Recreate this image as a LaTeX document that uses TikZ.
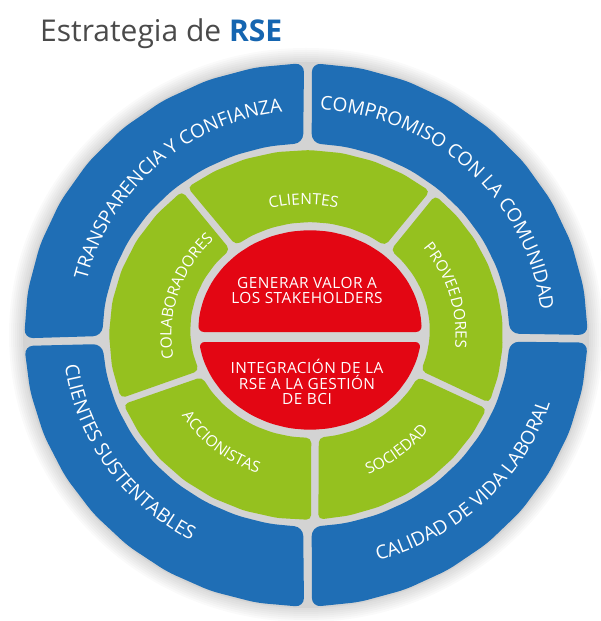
\documentclass[tikz,border=0pt]{standalone}
\usepackage{fontspec}
\setmainfont{Open Sans}
\usetikzlibrary{decorations.text,calc}
\definecolor{bciblue}{HTML}{1F6EB5}
\definecolor{bcigreen}{HTML}{95C11F}
\definecolor{bcired}{HTML}{E30613}
\definecolor{ringgray}{HTML}{D3D3D3}
\definecolor{titlegray}{HTML}{4A4A4A}
\definecolor{rseblue}{HTML}{1565B0}
\newcommand\bluelab{\fontsize{19}{19}\selectfont\color{white}}
\newcommand\greenlab{\fontsize{15.5}{15.5}\selectfont\color{white}}
\tikzset{
  blueseg/.style={fill=bciblue, rounded corners=9pt},
  greenseg/.style={fill=bcigreen, rounded corners=5pt},
  redseg/.style={fill=bcired, rounded corners=6pt},
  redtxt/.style={text=white, align=center, inner sep=0pt, font=\fontsize{15.4}{15.5}\selectfont\addfontfeature{LetterSpace=3}},
}
\begin{document}
\begin{tikzpicture}[x=1pt,y=1pt]
\useasboundingbox (0,0) rectangle (600,621);
% title
\node[anchor=base west, inner sep=0pt, font=\fontsize{30}{30}\selectfont] (title) at (40,579)
  {\color{titlegray}Estrategia de \textbf{\color{rseblue}RSE}};
% soft shadow and gray base
\foreach \d in {2,4,...,14}
  \fill[black, opacity=0.02] (306,286) ellipse [x radius=283+\d, y radius=273+\d];
\fill[ringgray] (306,286) ellipse [x radius=283, y radius=273];
% blue ring
\fill[blueseg] plot[domain=90.4:180.7,samples=10] ({306+282*cos(\x)},{286+272*sin(\x)})
  -- plot[domain=180.3:90.8,samples=10] ({306+204*cos(\x)},{286+192*sin(\x)}) -- cycle;
\fill[blueseg] plot[domain=0:88.8,samples=10] ({306+282*cos(\x)},{286+272*sin(\x)})
  -- plot[domain=88.4:0.4,samples=10] ({306+204*cos(\x)},{286+192*sin(\x)}) -- cycle;
\fill[blueseg] plot[domain=182.3:269.6,samples=10] ({306+282*cos(\x)},{286+272*sin(\x)})
  -- plot[domain=269.2:182.7,samples=10] ({306+204*cos(\x)},{286+192*sin(\x)}) -- cycle;
\fill[blueseg] plot[domain=271.2:358.4,samples=10] ({306+282*cos(\x)},{286+272*sin(\x)})
  -- plot[domain=358.0:271.6,samples=10] ({306+204*cos(\x)},{286+192*sin(\x)}) -- cycle;
% green ring
\fill[greenseg] plot[domain=51:127,samples=9] ({306+197*cos(\x)},{286+185*sin(\x)})
  -- plot[domain=128.2:51.3,samples=9] ({310+120*cos(\x)},{291+108*sin(\x)}) -- cycle;
\fill[greenseg] plot[domain=129:200,samples=8] ({306+197*cos(\x)},{286+185*sin(\x)})
  -- plot[domain=202.2:131.8,samples=8] ({310+120*cos(\x)},{291+108*sin(\x)}) -- cycle;
\fill[greenseg] plot[domain=202:271.5,samples=8] ({306+197*cos(\x)},{286+185*sin(\x)})
  -- plot[domain=270.6:205.8,samples=8] ({310+120*cos(\x)},{291+108*sin(\x)}) -- cycle;
\fill[greenseg] plot[domain=273.6:336.5,samples=8] ({306+197*cos(\x)},{286+185*sin(\x)})
  -- plot[domain=334.2:274.2,samples=8] ({310+120*cos(\x)},{291+108*sin(\x)}) -- cycle;
\fill[greenseg] plot[domain=-21.5:49,samples=9] ({306+197*cos(\x)},{286+185*sin(\x)})
  -- plot[domain=47.7:-22.2,samples=9] ({310+120*cos(\x)},{291+108*sin(\x)}) -- cycle;
% red centre
\fill[redseg] plot[domain=-1.15:181.15,samples=19] ({310+112*cos(\x)},{291+100*sin(\x)}) -- cycle;
\fill[redseg] plot[domain=186.9:353.1,samples=17] ({310+112*cos(\x)},{291+100*sin(\x)}) -- cycle;
\node[redtxt] (gen) at (307,330.7) {GENERAR VALOR A\\LOS STAKEHOLDERS};
\node[redtxt] (integ) at (307,238.8) {INTEGRACIÓN DE LA\\RSE A LA GESTIÓN\\DE BCI};
% blue labels
\path[decorate, decoration={text along path, text align=center, text={|\bluelab|TRANSPARENCIA Y CONFIANZA}}]
  ($(306,286)+(191:226 and 224)$) arc[start angle=191, end angle=71, x radius=226, y radius=224];
\path[decorate, decoration={text along path, text align=center, text={|\bluelab|COMPROMISO CON LA COMUNIDAD}}]
  ($(306,286)+(106:236 and 226)$) arc[start angle=106, end angle=-14, x radius=236, y radius=226];
\path[decorate, decoration={text along path, text align=center, text={|\bluelab|CLIENTES SUSTENTABLES}}]
  ($(306,286)+(154:243 and 233)$) arc[start angle=154, end angle=274, x radius=243, y radius=233];
\path[decorate, decoration={text along path, text align=center, text={|\bluelab|CALIDAD DE VIDA LABORAL}}]
  ($(306,286)+(-104:255 and 235)$) arc[start angle=-104, end angle=16, x radius=255, y radius=235];
% green labels
\path[decorate, decoration={text along path, text align=center, text={|\greenlab|CLIENTES}}]
  ($(306,286)+(141:141 and 130.5)$) arc[start angle=141, end angle=41, x radius=141, y radius=130.5];
\path[decorate, decoration={text along path, text align=center, text={|\greenlab|COLABORADORES}}]
  ($(306,286)+(222:134.5 and 131)$) arc[start angle=222, end angle=102, x radius=134.5, y radius=131];
\path[decorate, decoration={text along path, text align=center, text={|\greenlab|PROVEEDORES}}]
  ($(306,286)+(76:149.5 and 140)$) arc[start angle=76, end angle=-44, x radius=149.5, y radius=140];
\path[decorate, decoration={text along path, text align=center, text={|\greenlab|ACCIONISTAS}}]
  ($(306,286)+(172:149 and 146)$) arc[start angle=172, end angle=292, x radius=149, y radius=146];
\path[decorate, decoration={text along path, text align=center, text={|\greenlab|SOCIEDAD}}]
  ($(306,286)+(-112:157 and 152)$) arc[start angle=-112, end angle=8, x radius=157, y radius=152];
\end{tikzpicture}
\end{document}
